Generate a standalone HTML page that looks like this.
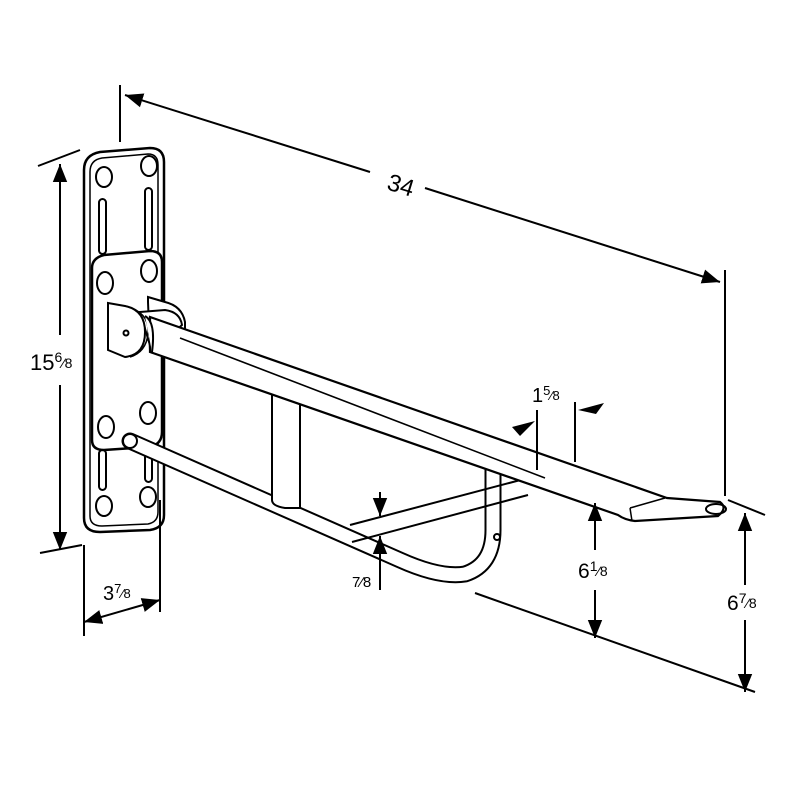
<!DOCTYPE html>
<html><head><style>body{margin:0;background:#fff}svg{display:block}text{font-family:"Liberation Sans",sans-serif;fill:#000}</style></head>
<body>
<svg width="800" height="800" viewBox="0 0 800 800" xmlns="http://www.w3.org/2000/svg" fill="none" stroke="#000" stroke-width="2">
<defs>
<marker id="a" viewBox="0 0 10 10" refX="10" refY="5" markerWidth="9" markerHeight="9" orient="auto-start-reverse"><path d="M0,1 L10,5 L0,9z" fill="#000" stroke="none"/></marker>
</defs>
<!-- back plate -->
<path d="M84,170 Q84,155 100,152 L150,148 Q164,148 164,162 L164,515 Q164,528 150,530 L100,532 Q84,532 84,518 Z" stroke-width="2.5"/>
<path d="M90,172 Q90,160 102,158 L148,154 Q158,154 158,165 L158,512 Q158,522 148,524 L102,526 Q90,526 90,516 Z" stroke-width="1.5"/>
<ellipse cx="104" cy="177" rx="8" ry="10"/><ellipse cx="149" cy="166" rx="8" ry="10"/>
<ellipse cx="104" cy="506" rx="8" ry="10"/><ellipse cx="148" cy="497" rx="8" ry="10"/>
<rect x="99" y="199" width="7" height="55" rx="3.5"/><rect x="145" y="188" width="7" height="62" rx="3.5"/>
<rect x="99" y="450" width="7" height="40" rx="3.5"/><rect x="145" y="440" width="7" height="42" rx="3.5"/>
<!-- front plate -->
<path d="M92,268 Q92,258 104,255 L150,251 Q162,251 162,262 L162,432 Q162,444 150,447 L104,450 Q92,450 92,440 Z" fill="#fff" stroke-width="2.5"/>
<ellipse cx="105" cy="283" rx="8" ry="11"/><ellipse cx="149" cy="271" rx="8" ry="11"/>
<ellipse cx="106" cy="427" rx="8" ry="11"/><ellipse cx="148" cy="413" rx="8" ry="11"/>
<!-- hinge -->
<path d="M148,302 L148,297 L165,302 Q182,306 185,322 L185,330 L150,350 Z" fill="#fff"/>
<path d="M140,312 L165,310 Q180,312 182,325 L152,352 Z" fill="#fff"/>
<path d="M108,303 L125,306 Q145,310 145,332 Q145,355 125,357 L108,350 Z" fill="#fff"/>
<path d="M125,306 Q150,312 148,334 Q146,352 130,357" stroke-width="1.5"/>
<circle cx="126" cy="333" r="2.5"/>
<!-- lower rod -->
<path d="M130,441 L400,560 Q440,578 465,574 Q493,565 493,530 L493,470" stroke-width="17" stroke-linecap="round"/>
<path d="M130,441 L400,560 Q440,578 465,574 Q493,565 493,530 L493,470" stroke="#fff" stroke-width="13"/>
<circle cx="130" cy="441" r="7" fill="#fff"/>
<circle cx="497" cy="537" r="3"/>
<!-- strut -->
<path d="M272,390 L272,500 Q272,506 285,508 L300,508 L300,400" fill="#fff"/>
<!-- cross bars -->
<line x1="350" y1="525" x2="528" y2="478"/>
<line x1="352" y1="542" x2="528" y2="495"/>
<!-- main bar -->
<path d="M150,317 L667,498 L720,502 Q728,508 718,516 L635,521 Q625,520 618,515 L150,352 Z" fill="#fff" stroke-width="2.2"/>
<line x1="180" y1="338" x2="545" y2="478" stroke-width="1.6"/>
<path d="M630,508 L665,498 M632,521 L630,508" stroke-width="1.5"/>
<ellipse cx="716" cy="509" rx="10" ry="5"/>
<path d="M145,316 Q156,322 152,352" fill="#fff"/>
<!-- dimensions -->
<line x1="120" y1="85" x2="120" y2="142"/>
<line x1="725" y1="270" x2="725" y2="496"/>
<line x1="125" y1="95" x2="370" y2="172" marker-start="url(#a)"/>
<line x1="425" y1="188" x2="720" y2="282" marker-end="url(#a)"/>
<text x="388" y="190" font-size="24" stroke="none" transform="rotate(17 390 182)">34</text>
<line x1="38" y1="166" x2="80" y2="150"/>
<line x1="40" y1="553" x2="82" y2="545"/>
<line x1="60" y1="164" x2="60" y2="335" marker-start="url(#a)"/>
<line x1="60" y1="385" x2="60" y2="550" marker-end="url(#a)"/>
<text x="30" y="370" font-size="22" stroke="none">15<tspan font-size="14" dy="-8">6</tspan><tspan font-size="14" dy="6">⁄8</tspan></text>
<line x1="84" y1="545" x2="84" y2="636"/>
<line x1="160" y1="500" x2="160" y2="612"/>
<line x1="84" y1="622" x2="160" y2="600" marker-start="url(#a)" marker-end="url(#a)"/>
<text x="103" y="600" font-size="20" stroke="none">3<tspan font-size="13" dy="-7">7</tspan><tspan font-size="13" dy="5">⁄8</tspan></text>
<line x1="537" y1="410" x2="537" y2="470"/>
<line x1="575" y1="402" x2="575" y2="462"/>
<path d="M512,427 L535,421 L520,436 Z" fill="#000" stroke="none"/>
<path d="M604,403 L578,410 L596,414 Z" fill="#000" stroke="none"/>
<text x="532" y="402" font-size="20" stroke="none">1<tspan font-size="13" dy="-7">5</tspan><tspan font-size="13" dy="5">⁄8</tspan></text>
<line x1="380" y1="492" x2="380" y2="516" marker-end="url(#a)"/>
<line x1="380" y1="590" x2="380" y2="536" marker-end="url(#a)"/>
<text x="352" y="587" font-size="15" stroke="none">7⁄8</text>
<line x1="475" y1="593" x2="755" y2="692"/>
<line x1="595" y1="503" x2="595" y2="550" marker-start="url(#a)"/>
<line x1="595" y1="590" x2="595" y2="638" marker-end="url(#a)"/>
<text x="578" y="578" font-size="21" stroke="none">6<tspan font-size="14" dy="-7">1</tspan><tspan font-size="14" dy="5">⁄8</tspan></text>
<line x1="728" y1="500" x2="765" y2="515"/>
<line x1="745" y1="513" x2="745" y2="585" marker-start="url(#a)"/>
<line x1="745" y1="620" x2="745" y2="692" marker-end="url(#a)"/>
<text x="727" y="610" font-size="21" stroke="none">6<tspan font-size="14" dy="-7">7</tspan><tspan font-size="14" dy="5">⁄8</tspan></text>
</svg>
</body></html>
